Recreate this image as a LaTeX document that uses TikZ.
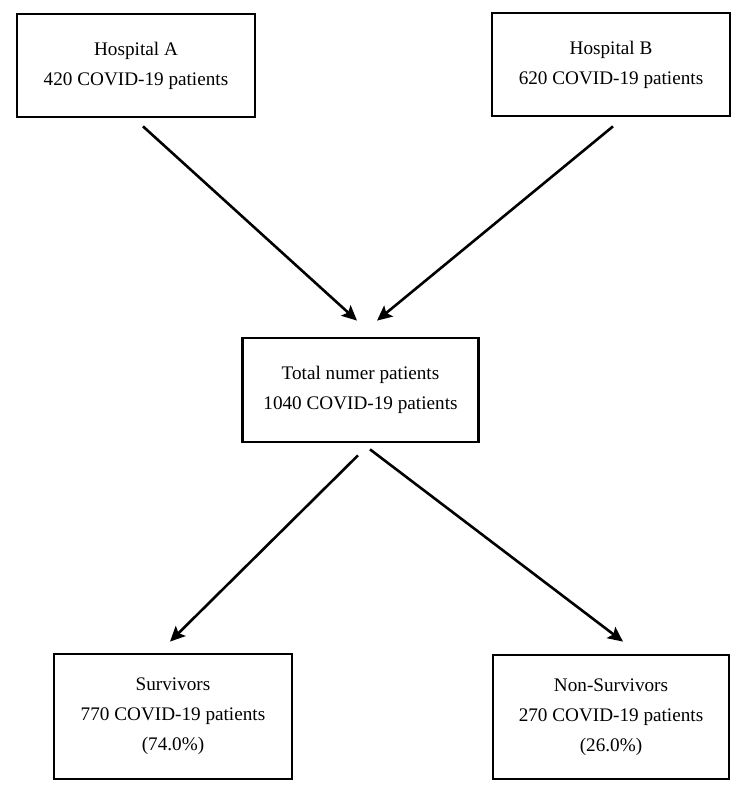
\documentclass[tikz,border=0pt]{standalone}
\usepackage{fontspec}
\setmainfont{Liberation Serif}
\usetikzlibrary{arrows.meta}
\begin{document}
\begin{tikzpicture}[x=1pt,y=1pt,
  box/.style={draw=black, line width=2.8pt, fill=white, align=center, inner sep=0pt,
    font=\fontsize{19.2}{30}\selectfont},
  arr/.style={line width=2.6pt, -{Stealth[length=15pt,width=14pt,inset=3pt]}}]
\useasboundingbox (0,0) rectangle (746,797);
\node[box, minimum width=238pt, minimum height=103pt] (A) at (136,731.5) {Hospital A\\420 COVID-19 patients};
\node[box, minimum width=238pt, minimum height=103pt] (B) at (611,732.5) {Hospital B\\620 COVID-19 patients};
\node[box, minimum width=236pt, minimum height=104pt] (M) at (360.5,407) {Total numer patients\\1040 COVID-19 patients};
\node[box, minimum width=238pt, minimum height=125pt] (S) at (173,80.5) {Survivors\\770 COVID-19 patients\\(74.0\%)};
\node[box, minimum width=236pt, minimum height=124pt] (N) at (611,80) {Non-Survivors\\270 COVID-19 patients\\(26.0\%)};
\draw[arr] ([xshift=7pt,yshift=-8pt]A.south) -- ([xshift=-3.5pt,yshift=16pt]M.north);
\draw[arr] ([xshift=2pt,yshift=-9pt]B.south) -- ([xshift=16.5pt,yshift=16pt]M.north);
\draw[arr] ([xshift=-2.5pt,yshift=-12pt]M.south) -- ([xshift=-3pt,yshift=11pt]S.north);
\draw[arr] ([xshift=9.5pt,yshift=-6pt]M.south) -- ([xshift=12pt,yshift=12pt]N.north);
\end{tikzpicture}
\end{document}
